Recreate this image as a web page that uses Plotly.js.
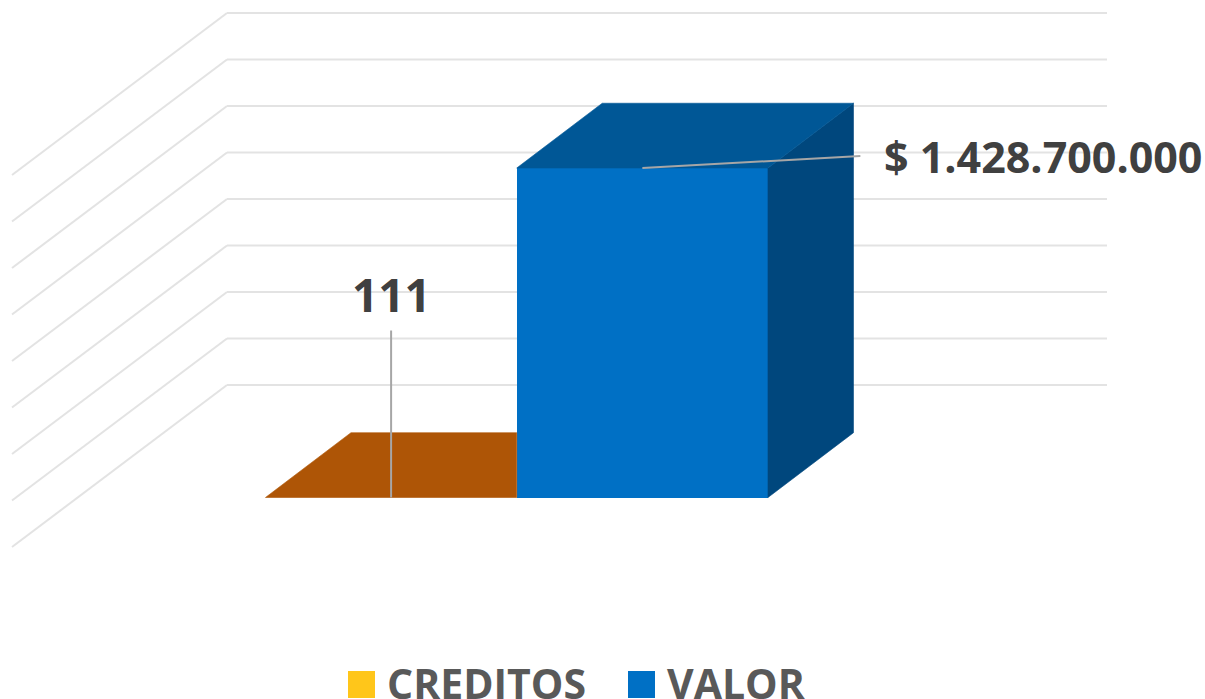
<!DOCTYPE html>
<html><head><meta charset="utf-8">
<script src="https://cdn.plot.ly/plotly-3.0.1.min.js"></script>
<style>html,body{margin:0;padding:0;background:#fff;overflow:hidden}</style>
</head><body><div id="chart" style="width:1205px;height:699px"></div>
<script>
// ---- data ----
const categories = ['CREDITOS', 'VALOR'];
const values = [111, 1428700000];
const valueLabels = ['111', '$ 1.428.700.000'];
const gridTicks = [200000000, 400000000, 600000000, 800000000, 1000000000, 1200000000, 1400000000, 1600000000, 1800000000];
// ---- styles ----
const frontColors = ['#FFC61A', '#0070C5'];
const topColors = ['#AE5506', '#005796'];
const sideColors = ['#8A6A00', '#00477D'];

// ---- scale set-up: pixel calibration of the plot area ----
const W = 1205, H = 699;
const barPx = 251.25, centerPx = 391.1;
const zeroPx = 500.2, pxPerUnit = 46.5 / 2e8;
const xu = px => px / barPx;            // px length -> x-axis units
const yu = px => px / pxPerUnit;        // px length -> y-axis units
const xRange = [-xu(centerPx), xu(W - centerPx)];
const yRange = [-yu(H - zeroPx), yu(zeroPx)];
const floorVal = yu(2.7);               // floor plane sits slightly above zero
const depthX = xu(85.5), depthY = yu(64.8);

// ---- wall gridlines ----
const wallDX = xu(-164.1), wallDY = yu(68.7), sideDX = xu(-215), sideDY = yu(-162);
const gridColor = '#E3E3E3';
const shapes = [];
gridTicks.forEach(t => {
  const x0 = wallDX, y0 = t + wallDY;
  shapes.push({type:'line', layer:'below', xref:'x', yref:'y', x0:x0, y0:y0, x1:x0 + xu(880), y1:y0, line:{color:gridColor, width:2}});
  shapes.push({type:'line', layer:'below', xref:'x', yref:'y', x0:x0, y0:y0, x1:x0 + sideDX, y1:y0 + sideDY, line:{color:gridColor, width:2}});
});

// ---- bars ----
const traces = [];
traces.push({type:'bar', x:[0, 1], y:values.map(v => Math.max(v - floorVal, 0)), base:values.map(() => floorVal),
  width:1, marker:{color:frontColors, line:{width:0}}, hoverinfo:'skip', showlegend:false});
values.forEach((v, i) => {
  const top = Math.max(v, floorVal);
  const l = i - 0.5, r = i + 0.5;
  if (i === 0) {
    // top face, hidden where the next bar's front stands in front of it
    traces.push({type:'scatter', mode:'lines', fill:'toself', fillcolor:topColors[i], line:{width:0.6, color:topColors[i]}, hoverinfo:'skip', showlegend:false,
      x:[l, r, r, l + depthX, l], y:[top, top, top + depthY, top + depthY, top]});
  } else {
    traces.push({type:'scatter', mode:'lines', fill:'toself', fillcolor:sideColors[i], line:{width:0.6, color:sideColors[i]}, hoverinfo:'skip', showlegend:false,
      x:[r, r + depthX, r + depthX, r, r], y:[floorVal, floorVal + depthY, top + depthY, top, floorVal]});
    traces.push({type:'scatter', mode:'lines', fill:'toself', fillcolor:topColors[i], line:{width:0.6, color:topColors[i]}, hoverinfo:'skip', showlegend:false,
      x:[l, r, r + depthX, l + depthX, l], y:[top, top, top + depthY, top + depthY, top]});
  }
});

// ---- leader lines ----
const leaderColor = '#A6A6A6';
traces.push({type:'scatter', mode:'lines', line:{color:leaderColor, width:2}, hoverinfo:'skip', showlegend:false,
  x:[0, 0], y:[floorVal, floorVal + yu(167)]});
traces.push({type:'scatter', mode:'lines', line:{color:leaderColor, width:2}, hoverinfo:'skip', showlegend:false,
  x:[1, 1 + xu(218)], y:[values[1], values[1] + yu(12)]});

// ---- labels and legend ----
const labelFontA = {family:'"Open Sans", sans-serif', size:46, color:'#404040', weight:700};
const labelFontB = {family:'"Open Sans", sans-serif', size:43, color:'#404040', weight:700};
const legendFont = {family:'"Open Sans", sans-serif', size:41, color:'#595959', weight:700};
const annotations = [
  {xref:'x', yref:'y', x:0, y:floorVal + yu(204), text:'<b>' + valueLabels[0] + '</b>', showarrow:false, font:labelFontA},
  {xref:'x', yref:'y', x:1 + xu(240), y:values[1] + yu(12), xanchor:'left', text:'<b>' + valueLabels[1] + '</b>', showarrow:false, font:labelFontB},
];
const legendX = [348, 628], legendTextX = [385, 665];
categories.forEach((c, i) => {
  shapes.push({type:'rect', xref:'paper', yref:'paper', x0:legendX[i] / W, x1:(legendX[i] + 27) / W, y0:1 / H, y1:28 / H,
    fillcolor:frontColors[i], line:{width:0}});
  annotations.push({xref:'paper', yref:'paper', x:legendTextX[i] / W, y:16 / H, xanchor:'left', yanchor:'middle', text:'<b>' + c + '</b>', showarrow:false, font:legendFont});
});

Plotly.newPlot('chart', traces, {
  width:W, height:H, margin:{l:0, r:0, t:0, b:0}, paper_bgcolor:'#fff', plot_bgcolor:'#fff',
  showlegend:false, barmode:'overlay', bargap:0,
  xaxis:{range:xRange, visible:false, fixedrange:true},
  yaxis:{range:yRange, visible:false, fixedrange:true},
  shapes:shapes, annotations:annotations
}, {staticPlot:true, displayModeBar:false});
</script></body></html>
